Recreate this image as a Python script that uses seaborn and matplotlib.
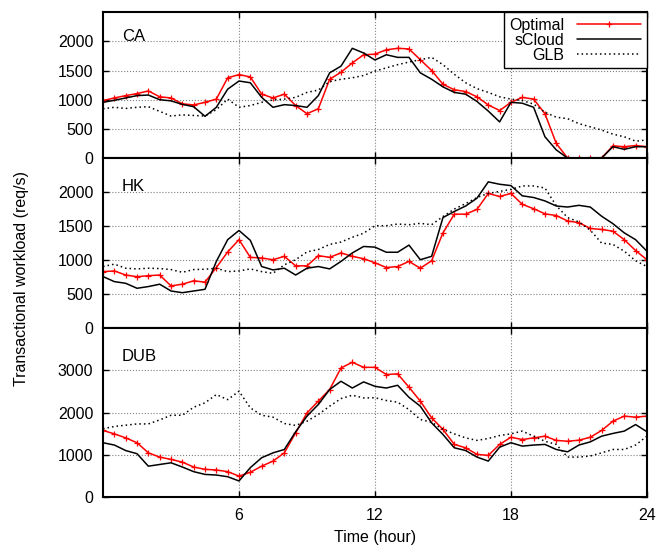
import matplotlib
matplotlib.use("Agg")
import matplotlib.pyplot as plt
import numpy as np
import seaborn as sns

# time axis, one sample every half hour
hours = np.arange(0, 24.5, 0.5)

# CA
ca_optimal = [985, 1030, 1070, 1105, 1150, 1050, 1030, 930, 910, 955, 1010, 1375, 1430,
              1390, 1095, 1030, 1095, 900, 760, 845, 1350, 1470, 1630, 1770, 1780,
              1855, 1880, 1870, 1685, 1500, 1265, 1170, 1140, 1050, 910, 815, 955,
              1040, 1010, 760, 250, 0, 0, 0, 0, 210, 195, 215, 195]
ca_scloud = [955, 990, 1030, 1070, 1080, 1000, 980, 920, 880, 715, 870, 1180, 1320,
             1290, 1040, 870, 915, 900, 870, 1070, 1460, 1575, 1880, 1800, 1680,
             1770, 1725, 1725, 1460, 1350, 1220, 1125, 1095, 970, 805, 620, 955,
             940, 870, 365, 140, 0, 0, 0, 0, 195, 150, 195, 195]
ca_glb = [845, 870, 850, 870, 880, 800, 720, 740, 730, 720, 830, 1010, 870,
          900, 955, 995, 1010, 1040, 1125, 1165, 1310, 1350, 1375, 1415, 1490,
          1545, 1600, 1645, 1685, 1725, 1600, 1435, 1290, 1190, 1125, 1050, 1010,
          985, 925, 785, 700, 675, 590, 535, 480, 410, 365, 290, 310]

# HK
hk_optimal = [830, 840, 780, 755, 770, 780, 620, 645, 695, 675, 890, 1120, 1300,
              1040, 1030, 1005, 1055, 915, 915, 1065, 1040, 1105, 1055, 1020, 960,
              890, 905, 980, 880, 990, 1400, 1675, 1675, 1745, 1980, 1935, 1980,
              1820, 1755, 1680, 1655, 1575, 1550, 1465, 1450, 1425, 1300, 1140, 1005]
hk_scloud = [757, 683, 658, 585, 610, 645, 545, 520, 545, 570, 980, 1300, 1435,
             1290, 905, 855, 880, 780, 880, 905, 870, 980, 1105, 1200, 1190,
             1115, 1115, 1220, 1005, 1055, 1625, 1715, 1795, 1910, 2150, 2115, 2095,
             1945, 1920, 1870, 1795, 1780, 1805, 1780, 1645, 1535, 1400, 1300, 1130]
hk_glb = [905, 940, 880, 870, 880, 875, 860, 820, 860, 865, 880, 830, 840,
          870, 830, 805, 930, 1005, 1120, 1155, 1230, 1265, 1335, 1395, 1505,
          1505, 1530, 1520, 1540, 1520, 1640, 1750, 1830, 1920, 1980, 2010, 2040,
          2090, 2090, 2060, 1800, 1625, 1560, 1440, 1250, 1230, 1130, 990, 905]

# DUB
dub_optimal = [1575, 1495, 1400, 1285, 1045, 945, 890, 825, 710, 655, 640, 600, 495,
               585, 730, 850, 1045, 1520, 1990, 2270, 2545, 3055, 3190, 3070, 3070,
               2900, 2915, 2600, 2270, 1875, 1600, 1245, 1165, 1010, 985, 1245, 1415,
               1360, 1400, 1440, 1340, 1320, 1345, 1415, 1575, 1795, 1915, 1890, 1915]
dub_scloud = [1285, 1230, 1100, 1025, 730, 770, 810, 710, 600, 535, 520, 480, 380,
              695, 930, 1045, 1125, 1545, 1915, 2190, 2545, 2740, 2580, 2725, 2620,
              2580, 2645, 2360, 2150, 1755, 1480, 1165, 1100, 945, 850, 1180, 1285,
              1205, 1230, 1245, 1125, 1070, 1230, 1305, 1440, 1505, 1560, 1715, 1545]
dub_glb = [1615, 1670, 1700, 1730, 1730, 1825, 1935, 1935, 2125, 2230, 2425, 2305, 2505,
           2110, 1935, 1890, 1740, 1695, 1795, 1955, 2150, 2330, 2410, 2345, 2350,
           2285, 2245, 2070, 1835, 1770, 1600, 1495, 1400, 1340, 1385, 1455, 1495,
           1560, 1440, 1320, 1245, 945, 945, 970, 1045, 1125, 1125, 1230, 1440]

regions = ["CA", "HK", "DUB"]
series = [(ca_optimal, ca_scloud, ca_glb),
          (hk_optimal, hk_scloud, hk_glb),
          (dub_optimal, dub_scloud, dub_glb)]
ylims = [2500, 2500, 4000]
yticks = [[0, 500, 1000, 1500, 2000], [0, 500, 1000, 1500, 2000], [0, 1000, 2000, 3000]]

sns.set_style("ticks")
plt.rcParams["font.family"] = ["Liberation Sans", "DejaVu Sans"]
plt.rcParams["font.size"] = 11.5
for key in ["text.color", "axes.labelcolor", "xtick.color", "ytick.color", "axes.edgecolor"]:
    plt.rcParams[key] = "black"

fig, axes = plt.subplots(3, 1, sharex=True, figsize=(6.69, 5.51), dpi=100,
                         gridspec_kw=dict(height_ratios=[146, 170, 169], hspace=0))
fig.subplots_adjust(left=0.154, right=0.967, top=0.978, bottom=0.098)

for ax, name, (opt, scl, glb), ymax, yt in zip(axes, regions, series, ylims, yticks):
    sns.lineplot(x=hours, y=opt, ax=ax, color="red", lw=1.1, marker="+", ms=5,
                 mew=0.9, mec="red", label="Optimal")
    sns.lineplot(x=hours, y=scl, ax=ax, color="black", lw=1.1, label="sCloud")
    sns.lineplot(x=hours, y=glb, ax=ax, color="black", lw=1.1, linestyle=(0, (1, 2)),
                 label="GLB")
    ax.set_xlim(0, 24)
    ax.set_ylim(0, ymax)
    ax.set_yticks(yt)
    ax.set_xticks([6, 12, 18, 24])
    ax.grid(True, ls=":", color="#808080", lw=0.8)
    ax.tick_params(direction="in", length=4, width=1, right=True, top=True,
                   labelsize=11.5)
    ax.tick_params(axis="y", pad=7)
    ax.tick_params(axis="x", pad=8)
    for sp in ax.spines.values():
        sp.set_linewidth(1.5)
    ax.text(0.035, 0.83, name, transform=ax.transAxes, fontsize=12,
            ha="left", va="center")
    ax.set_ylabel("")
    if ax.get_legend() is not None:
        ax.get_legend().remove()

leg = axes[0].legend(loc="upper right", markerfirst=False, frameon=True,
                     fancybox=False, borderaxespad=0, fontsize=11.5,
                     handlelength=4.0, labelspacing=0.0, borderpad=0.35,
                     handletextpad=0.8)
leg.get_frame().set_edgecolor("black")
leg.get_frame().set_linewidth(1)
leg.get_frame().set_alpha(1)

axes[2].set_xlabel("Time (hour)", fontsize=11.5, labelpad=5)
fig.text(0.032, 0.495, "Transactional workload (req/s)", rotation=90,
         ha="center", va="center", fontsize=11.5)

plt.savefig("out.png", dpi=100)
